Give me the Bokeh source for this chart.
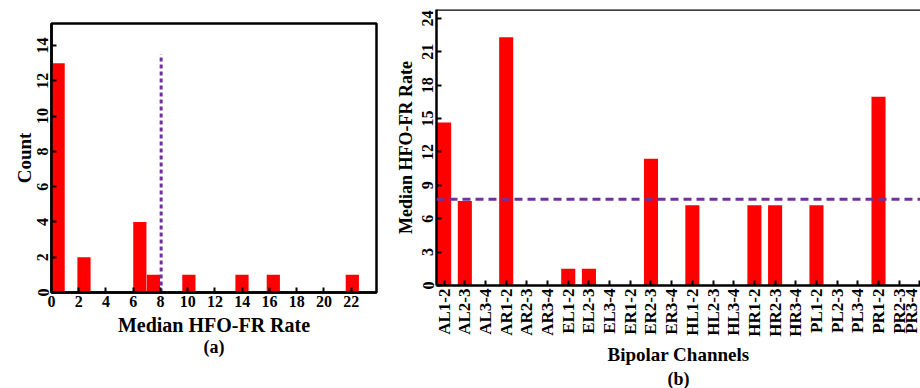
import math

from bokeh.embed import file_html
from bokeh.layouts import column, row
from bokeh.models import FixedTicker, Span, Title
from bokeh.plotting import figure
from bokeh.resources import INLINE

# Histogram of median HFO-FR rates across bipolar channels
bin_left = [0.0, 1.9, 6.0, 7.0, 9.6, 13.5, 15.8, 21.6]
bin_width = 0.97
bin_count = [13, 2, 4, 1, 1, 1, 1, 1]
hist_ticks = list(range(0, 23, 2))
count_ticks = list(range(0, 15, 2))
cutoff_rate = 8.05
cutoff_top = 13.5

# Median HFO-FR rate per bipolar channel
channels = [
    "AL1-2", "AL2-3", "AL3-4", "AR1-2", "AR2-3", "AR3-4",
    "EL1-2", "EL2-3", "EL3-4", "ER1-2", "ER2-3", "ER3-4",
    "HL1-2", "HL2-3", "HL3-4", "HR1-2", "HR2-3", "HR3-4",
    "PL1-2", "PL2-3", "PL3-4", "PR1-2", "PR2-3", "PR3-4",
]
median_rate = [
    14.65, 7.6, 0, 22.3, 0, 0,
    1.5, 1.5, 0, 0, 11.4, 0,
    7.2, 0, 0, 7.2, 7.2, 0,
    7.2, 0, 0, 16.95, 0, 0,
]
rate_ticks = list(range(0, 25, 3))
rate_axis_max = 24.8
rate_threshold = 7.75

FONT = "Liberation Serif"
RED = "#FF0000"
PURPLE = "#7030A0"


def style_axis(ax, tick_size="16px", title_size="19px", title_gap=4):
    ax.axis_line_width = 2.5
    ax.axis_line_color = "black"
    ax.major_tick_in = 5
    ax.major_tick_out = 0
    ax.major_tick_line_width = 2
    ax.major_tick_line_color = "black"
    ax.minor_tick_line_color = None
    ax.major_label_text_font = FONT
    ax.major_label_text_font_style = "bold"
    ax.major_label_text_font_size = tick_size
    ax.major_label_text_color = "black"
    ax.major_label_standoff = 3
    ax.axis_label_text_font = FONT
    ax.axis_label_text_font_style = "bold"
    ax.axis_label_text_font_size = title_size
    ax.axis_label_text_color = "black"
    ax.axis_label_standoff = title_gap


def panel_tag(text, standoff):
    return Title(text=text, align="center", text_font=FONT,
                 text_font_style="bold", text_font_size="18px",
                 text_color="black", standoff=standoff)


# (a) histogram
p1 = figure(width=390, height=388, x_range=(0, 23.86), y_range=(0, 15.25),
            output_backend="svg", toolbar_location=None,
            min_border_left=51, min_border_right=14,
            min_border_top=23, min_border_bottom=96)
p1.quad(left=bin_left, right=[b + bin_width for b in bin_left],
        bottom=0, top=bin_count, fill_color=RED, line_color=None)
p1.line(x=[cutoff_rate, cutoff_rate], y=[0, cutoff_top],
        line_color=PURPLE, line_width=3, line_dash="4 3")
p1.xgrid.visible = False
p1.ygrid.visible = False
p1.outline_line_color = "black"
p1.outline_line_width = 2.5
p1.outline_line_alpha = 1
p1.xaxis.ticker = FixedTicker(ticks=hist_ticks)
p1.yaxis.ticker = FixedTicker(ticks=count_ticks)
p1.xaxis.axis_label = "Median HFO-FR Rate"
p1.yaxis.axis_label = "Count"
style_axis(p1.xaxis[0], title_size="20px")
style_axis(p1.yaxis[0], title_gap=0)
p1.yaxis.major_label_orientation = "parallel"
p1.add_layout(panel_tag("(a)", -8), "below")

# (b) per-channel bars
positions = list(range(1, len(channels) + 1))
p2 = figure(width=530, height=388, x_range=(0.63, 24.03),
            y_range=(0, rate_axis_max),
            output_backend="svg", toolbar_location=None,
            min_border_left=46, min_border_right=0,
            min_border_top=9, min_border_bottom=103)
p2.vbar(x=positions, width=0.68, bottom=0, top=median_rate,
        fill_color=RED, line_color=None)
p2.add_layout(Span(location=rate_threshold, dimension="width",
                   line_color=PURPLE, line_width=3, line_dash="8 5"))
# closing line along the top of the frame (the right side stays open)
p2.add_layout(Span(location=rate_axis_max, dimension="width",
                   line_color="black", line_width=2.5))
p2.xgrid.visible = False
p2.ygrid.visible = False
p2.outline_line_color = None
p2.xaxis.ticker = FixedTicker(ticks=positions)
p2.xaxis.major_label_overrides = {pos: name for pos, name in zip(positions, channels)}
p2.yaxis.ticker = FixedTicker(ticks=rate_ticks)
p2.xaxis.axis_label = "Bipolar Channels"
p2.yaxis.axis_label = "Median HFO-FR Rate"
style_axis(p2.xaxis[0], tick_size="17px")
style_axis(p2.yaxis[0], title_size="18px")
p2.xaxis.major_label_orientation = math.pi / 2
p2.yaxis.major_label_orientation = "parallel"
p2.add_layout(panel_tag("(b)", -2), "below")

layout = row(column(p1), column(p2))
open("out.html", "w").write(file_html(layout, INLINE))
